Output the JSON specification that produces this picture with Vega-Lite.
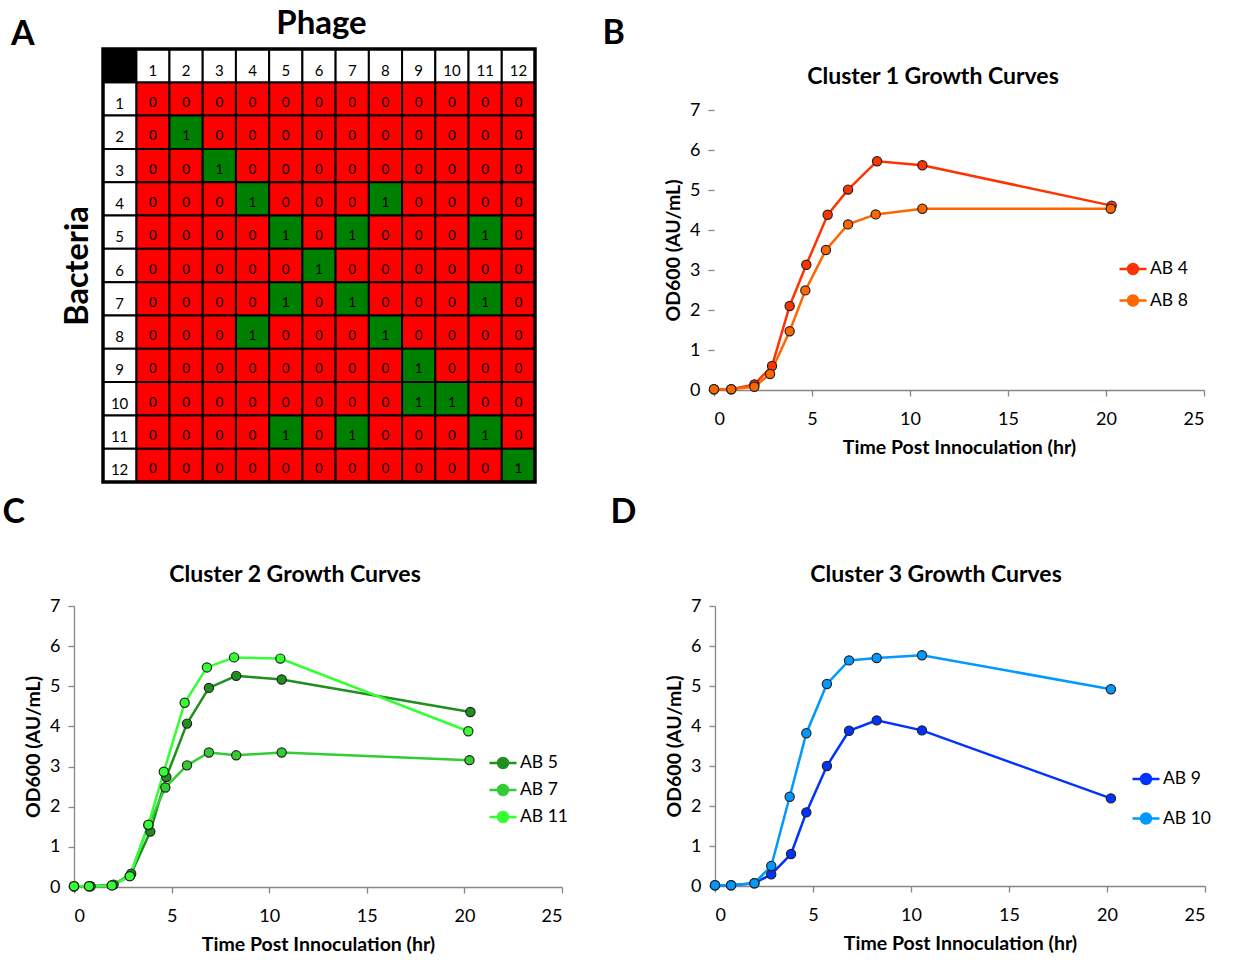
{
  "$schema": "https://vega.github.io/schema/vega-lite/v6.json",
  "padding": {"left": 2, "top": 8, "right": 0, "bottom": 0},
  "config": {
    "font": "Lato",
    "view": {"stroke": null},
    "title": {"font": "Lato", "fontWeight": "bold", "color": "black"},
    "axis": {"labelFont": "Lato", "titleFont": "Lato", "labelColor": "black", "titleColor": "black", "titleFontWeight": "bold", "domainColor": "#868686", "tickColor": "#868686", "domainWidth": 1.3, "tickWidth": 1.3, "tickSize": 6, "grid": false, "labelFontSize": 18, "titleFontSize": 19.5},
    "axisX": {"labelPadding": 14, "titlePadding": 10},
    "axisY": {"labelPadding": 8, "titlePadding": 6},
    "legend": {"labelFont": "Lato", "labelFontSize": 17.5, "labelColor": "black"},
    "text": {"font": "Lato"}
  },
  "datasets": {
    "cells": [
      {"b":"1","p":"1","v":0},{"b":"1","p":"2","v":0},{"b":"1","p":"3","v":0},{"b":"1","p":"4","v":0},{"b":"1","p":"5","v":0},{"b":"1","p":"6","v":0},{"b":"1","p":"7","v":0},{"b":"1","p":"8","v":0},{"b":"1","p":"9","v":0},{"b":"1","p":"10","v":0},{"b":"1","p":"11","v":0},{"b":"1","p":"12","v":0},
      {"b":"2","p":"1","v":0},{"b":"2","p":"2","v":1},{"b":"2","p":"3","v":0},{"b":"2","p":"4","v":0},{"b":"2","p":"5","v":0},{"b":"2","p":"6","v":0},{"b":"2","p":"7","v":0},{"b":"2","p":"8","v":0},{"b":"2","p":"9","v":0},{"b":"2","p":"10","v":0},{"b":"2","p":"11","v":0},{"b":"2","p":"12","v":0},
      {"b":"3","p":"1","v":0},{"b":"3","p":"2","v":0},{"b":"3","p":"3","v":1},{"b":"3","p":"4","v":0},{"b":"3","p":"5","v":0},{"b":"3","p":"6","v":0},{"b":"3","p":"7","v":0},{"b":"3","p":"8","v":0},{"b":"3","p":"9","v":0},{"b":"3","p":"10","v":0},{"b":"3","p":"11","v":0},{"b":"3","p":"12","v":0},
      {"b":"4","p":"1","v":0},{"b":"4","p":"2","v":0},{"b":"4","p":"3","v":0},{"b":"4","p":"4","v":1},{"b":"4","p":"5","v":0},{"b":"4","p":"6","v":0},{"b":"4","p":"7","v":0},{"b":"4","p":"8","v":1},{"b":"4","p":"9","v":0},{"b":"4","p":"10","v":0},{"b":"4","p":"11","v":0},{"b":"4","p":"12","v":0},
      {"b":"5","p":"1","v":0},{"b":"5","p":"2","v":0},{"b":"5","p":"3","v":0},{"b":"5","p":"4","v":0},{"b":"5","p":"5","v":1},{"b":"5","p":"6","v":0},{"b":"5","p":"7","v":1},{"b":"5","p":"8","v":0},{"b":"5","p":"9","v":0},{"b":"5","p":"10","v":0},{"b":"5","p":"11","v":1},{"b":"5","p":"12","v":0},
      {"b":"6","p":"1","v":0},{"b":"6","p":"2","v":0},{"b":"6","p":"3","v":0},{"b":"6","p":"4","v":0},{"b":"6","p":"5","v":0},{"b":"6","p":"6","v":1},{"b":"6","p":"7","v":0},{"b":"6","p":"8","v":0},{"b":"6","p":"9","v":0},{"b":"6","p":"10","v":0},{"b":"6","p":"11","v":0},{"b":"6","p":"12","v":0},
      {"b":"7","p":"1","v":0},{"b":"7","p":"2","v":0},{"b":"7","p":"3","v":0},{"b":"7","p":"4","v":0},{"b":"7","p":"5","v":1},{"b":"7","p":"6","v":0},{"b":"7","p":"7","v":1},{"b":"7","p":"8","v":0},{"b":"7","p":"9","v":0},{"b":"7","p":"10","v":0},{"b":"7","p":"11","v":1},{"b":"7","p":"12","v":0},
      {"b":"8","p":"1","v":0},{"b":"8","p":"2","v":0},{"b":"8","p":"3","v":0},{"b":"8","p":"4","v":1},{"b":"8","p":"5","v":0},{"b":"8","p":"6","v":0},{"b":"8","p":"7","v":0},{"b":"8","p":"8","v":1},{"b":"8","p":"9","v":0},{"b":"8","p":"10","v":0},{"b":"8","p":"11","v":0},{"b":"8","p":"12","v":0},
      {"b":"9","p":"1","v":0},{"b":"9","p":"2","v":0},{"b":"9","p":"3","v":0},{"b":"9","p":"4","v":0},{"b":"9","p":"5","v":0},{"b":"9","p":"6","v":0},{"b":"9","p":"7","v":0},{"b":"9","p":"8","v":0},{"b":"9","p":"9","v":1},{"b":"9","p":"10","v":0},{"b":"9","p":"11","v":0},{"b":"9","p":"12","v":0},
      {"b":"10","p":"1","v":0},{"b":"10","p":"2","v":0},{"b":"10","p":"3","v":0},{"b":"10","p":"4","v":0},{"b":"10","p":"5","v":0},{"b":"10","p":"6","v":0},{"b":"10","p":"7","v":0},{"b":"10","p":"8","v":0},{"b":"10","p":"9","v":1},{"b":"10","p":"10","v":1},{"b":"10","p":"11","v":0},{"b":"10","p":"12","v":0},
      {"b":"11","p":"1","v":0},{"b":"11","p":"2","v":0},{"b":"11","p":"3","v":0},{"b":"11","p":"4","v":0},{"b":"11","p":"5","v":1},{"b":"11","p":"6","v":0},{"b":"11","p":"7","v":1},{"b":"11","p":"8","v":0},{"b":"11","p":"9","v":0},{"b":"11","p":"10","v":0},{"b":"11","p":"11","v":1},{"b":"11","p":"12","v":0},
      {"b":"12","p":"1","v":0},{"b":"12","p":"2","v":0},{"b":"12","p":"3","v":0},{"b":"12","p":"4","v":0},{"b":"12","p":"5","v":0},{"b":"12","p":"6","v":0},{"b":"12","p":"7","v":0},{"b":"12","p":"8","v":0},{"b":"12","p":"9","v":0},{"b":"12","p":"10","v":0},{"b":"12","p":"11","v":0},{"b":"12","p":"12","v":1}
    ],
    "b": [
      {"s":"AB 4","t":0,"od":0.02},{"s":"AB 4","t":0.88,"od":0.02},{"s":"AB 4","t":2.06,"od":0.14},{"s":"AB 4","t":2.96,"od":0.6},{"s":"AB 4","t":3.86,"od":2.1},{"s":"AB 4","t":4.71,"od":3.13},{"s":"AB 4","t":5.8,"od":4.38},{"s":"AB 4","t":6.84,"od":5.01},{"s":"AB 4","t":8.32,"od":5.72},{"s":"AB 4","t":10.63,"od":5.62},{"s":"AB 4","t":20.29,"od":4.61},
      {"s":"AB 8","t":0,"od":0.02},{"s":"AB 8","t":0.88,"od":0.02},{"s":"AB 8","t":2.06,"od":0.08},{"s":"AB 8","t":2.86,"od":0.4},{"s":"AB 8","t":3.86,"od":1.47},{"s":"AB 8","t":4.66,"od":2.49},{"s":"AB 8","t":5.71,"od":3.5},{"s":"AB 8","t":6.84,"od":4.14},{"s":"AB 8","t":8.25,"od":4.39},{"s":"AB 8","t":10.63,"od":4.53},{"s":"AB 8","t":20.24,"od":4.53}
    ],
    "c": [
      {"s":"AB 5","t":0,"od":0.02},{"s":"AB 5","t":0.85,"od":0.02},{"s":"AB 5","t":2.03,"od":0.06},{"s":"AB 5","t":2.93,"od":0.33},{"s":"AB 5","t":3.91,"od":1.38},{"s":"AB 5","t":4.73,"od":2.74},{"s":"AB 5","t":5.79,"od":4.07},{"s":"AB 5","t":6.91,"od":4.96},{"s":"AB 5","t":8.31,"od":5.26},{"s":"AB 5","t":10.64,"od":5.17},{"s":"AB 5","t":20.31,"od":4.36},
      {"s":"AB 7","t":0,"od":0.02},{"s":"AB 7","t":0.77,"od":0.02},{"s":"AB 7","t":1.94,"od":0.04},{"s":"AB 7","t":2.86,"od":0.27},{"s":"AB 7","t":3.81,"od":1.54},{"s":"AB 7","t":4.68,"od":2.48},{"s":"AB 7","t":5.79,"od":3.03},{"s":"AB 7","t":6.91,"od":3.35},{"s":"AB 7","t":8.31,"od":3.28},{"s":"AB 7","t":10.64,"od":3.35},{"s":"AB 7","t":20.26,"od":3.16},
      {"s":"AB 11","t":0,"od":0.02},{"s":"AB 11","t":0.77,"od":0.02},{"s":"AB 11","t":1.94,"od":0.04},{"s":"AB 11","t":2.86,"od":0.27},{"s":"AB 11","t":3.81,"od":1.55},{"s":"AB 11","t":4.6,"od":2.87},{"s":"AB 11","t":5.67,"od":4.59},{"s":"AB 11","t":6.81,"od":5.47},{"s":"AB 11","t":8.2,"od":5.72},{"s":"AB 11","t":10.57,"od":5.69},{"s":"AB 11","t":20.2,"od":3.88}
    ],
    "d": [
      {"s":"AB 9","t":0,"od":0.02},{"s":"AB 9","t":0.82,"od":0.02},{"s":"AB 9","t":2.01,"od":0.07},{"s":"AB 9","t":2.87,"od":0.29},{"s":"AB 9","t":3.88,"od":0.8},{"s":"AB 9","t":4.66,"od":1.84},{"s":"AB 9","t":5.71,"od":3.0},{"s":"AB 9","t":6.84,"od":3.88},{"s":"AB 9","t":8.25,"od":4.14},{"s":"AB 9","t":10.56,"od":3.89},{"s":"AB 9","t":20.2,"od":2.19},
      {"s":"AB 10","t":0,"od":0.02},{"s":"AB 10","t":0.82,"od":0.02},{"s":"AB 10","t":2.01,"od":0.07},{"s":"AB 10","t":2.87,"od":0.5},{"s":"AB 10","t":3.81,"od":2.23},{"s":"AB 10","t":4.66,"od":3.82},{"s":"AB 10","t":5.71,"od":5.05},{"s":"AB 10","t":6.84,"od":5.64},{"s":"AB 10","t":8.25,"od":5.7},{"s":"AB 10","t":10.56,"od":5.77},{"s":"AB 10","t":20.2,"od":4.92}
    ]
  },
  "resolve": {"scale": {"fill": "independent", "stroke": "independent"}, "legend": {"fill": "independent", "stroke": "independent"}},
  "spacing": 12,
  "vconcat": [
    {
      "spacing": 65,
      "resolve": {"scale": {"fill": "independent", "stroke": "independent"}, "legend": {"fill": "independent", "stroke": "independent"}},
      "hconcat": [
        {
          "title": {"text": "A", "anchor": "start", "frame": "bounds", "fontSize": 34, "dx": -50, "offset": -44},
          "vconcat": [{
            "width": 461, "height": 433,
            "title": {"text": "Phage", "fontSize": 33, "offset": 6, "frame": "group", "dx": 17},
            "data": {"name": "cells"},
            "layer": [
              {"mark": {"type": "rect", "stroke": "black", "strokeWidth": 2},
               "encoding": {
                 "x": {"field": "p", "type": "nominal", "scale": {"type": "band", "domain": ["lbl","1","2","3","4","5","6","7","8","9","10","11","12"], "paddingInner": 0, "paddingOuter": 0.4365, "align": 1}, "axis": null},
                 "y": {"field": "b", "type": "nominal", "scale": {"type": "band", "domain": ["hdr","1","2","3","4","5","6","7","8","9","10","11","12"], "paddingInner": 0, "paddingOuter": 0}, "axis": {"title": "Bacteria", "labels": false, "ticks": false, "domain": false, "titleFontSize": 32.5, "titlePadding": -20}},
                 "fill": {"field": "v", "type": "nominal", "scale": {"domain": [0, 1], "range": ["#ff0000", "#008000"]}, "legend": null}
               }},
              {"mark": {"type": "text", "fontSize": 13.5, "dy": 4, "color": "black"},
               "encoding": {
                 "x": {"field": "p", "type": "nominal", "scale": {"type": "band", "domain": ["lbl","1","2","3","4","5","6","7","8","9","10","11","12"], "paddingInner": 0, "paddingOuter": 0.4365, "align": 1}, "axis": null},
                 "y": {"field": "b", "type": "nominal", "scale": {"type": "band", "domain": ["hdr","1","2","3","4","5","6","7","8","9","10","11","12"], "paddingInner": 0, "paddingOuter": 0}, "axis": {"title": "Bacteria", "labels": false, "ticks": false, "domain": false, "titleFontSize": 32.5, "titlePadding": -20}},
                 "text": {"field": "v", "type": "nominal"}
               }},
              {"transform": [{"aggregate": [{"op": "count", "as": "n"}], "groupby": ["p"]}],
               "mark": {"type": "rect", "fill": "white", "stroke": "black", "strokeWidth": 2},
               "encoding": {
                 "x": {"field": "p", "type": "nominal", "scale": {"type": "band", "domain": ["lbl","1","2","3","4","5","6","7","8","9","10","11","12"], "paddingInner": 0, "paddingOuter": 0.4365, "align": 1}, "axis": null},
                 "y": {"datum": "hdr", "type": "nominal", "scale": {"type": "band", "domain": ["hdr","1","2","3","4","5","6","7","8","9","10","11","12"], "paddingInner": 0, "paddingOuter": 0}, "axis": {"title": "Bacteria", "labels": false, "ticks": false, "domain": false, "titleFontSize": 32.5, "titlePadding": -20}}
               }},
              {"transform": [{"aggregate": [{"op": "count", "as": "n"}], "groupby": ["p"]}],
               "mark": {"type": "text", "fontSize": 15, "dy": 5, "color": "black"},
               "encoding": {
                 "x": {"field": "p", "type": "nominal", "scale": {"type": "band", "domain": ["lbl","1","2","3","4","5","6","7","8","9","10","11","12"], "paddingInner": 0, "paddingOuter": 0.4365, "align": 1}, "axis": null},
                 "y": {"datum": "hdr", "type": "nominal", "scale": {"type": "band", "domain": ["hdr","1","2","3","4","5","6","7","8","9","10","11","12"], "paddingInner": 0, "paddingOuter": 0}, "axis": {"title": "Bacteria", "labels": false, "ticks": false, "domain": false, "titleFontSize": 32.5, "titlePadding": -20}},
                 "text": {"field": "p", "type": "nominal"}
               }},
              {"transform": [{"aggregate": [{"op": "count", "as": "n"}], "groupby": ["b"]}],
               "mark": {"type": "rect", "fill": "white", "stroke": "black", "strokeWidth": 2},
               "encoding": {
                 "x": {"datum": "lbl", "type": "nominal", "scale": {"type": "band", "domain": ["lbl","1","2","3","4","5","6","7","8","9","10","11","12"], "paddingInner": 0, "paddingOuter": 0.4365, "align": 1}, "axis": null},
                 "y": {"field": "b", "type": "nominal", "scale": {"type": "band", "domain": ["hdr","1","2","3","4","5","6","7","8","9","10","11","12"], "paddingInner": 0, "paddingOuter": 0}, "axis": {"title": "Bacteria", "labels": false, "ticks": false, "domain": false, "titleFontSize": 32.5, "titlePadding": -20}}
               }},
              {"transform": [{"aggregate": [{"op": "count", "as": "n"}], "groupby": ["b"]}],
               "mark": {"type": "text", "fontSize": 15, "dy": 5, "color": "black"},
               "encoding": {
                 "x": {"datum": "lbl", "type": "nominal", "scale": {"type": "band", "domain": ["lbl","1","2","3","4","5","6","7","8","9","10","11","12"], "paddingInner": 0, "paddingOuter": 0.4365, "align": 1}, "axis": null},
                 "y": {"field": "b", "type": "nominal", "scale": {"type": "band", "domain": ["hdr","1","2","3","4","5","6","7","8","9","10","11","12"], "paddingInner": 0, "paddingOuter": 0}, "axis": {"title": "Bacteria", "labels": false, "ticks": false, "domain": false, "titleFontSize": 32.5, "titlePadding": -20}},
                 "text": {"field": "b", "type": "nominal"}
               }},
              {"transform": [{"aggregate": [{"op": "count", "as": "n"}]}],
               "mark": {"type": "rect", "fill": "black", "stroke": "black", "strokeWidth": 2},
               "encoding": {
                 "x": {"datum": "lbl", "type": "nominal", "scale": {"type": "band", "domain": ["lbl","1","2","3","4","5","6","7","8","9","10","11","12"], "paddingInner": 0, "paddingOuter": 0.4365, "align": 1}, "axis": null},
                 "y": {"datum": "hdr", "type": "nominal", "scale": {"type": "band", "domain": ["hdr","1","2","3","4","5","6","7","8","9","10","11","12"], "paddingInner": 0, "paddingOuter": 0}, "axis": {"title": "Bacteria", "labels": false, "ticks": false, "domain": false, "titleFontSize": 32.5, "titlePadding": -20}}
               }},
              {"transform": [{"aggregate": [{"op": "count", "as": "n"}]}],
               "mark": {"type": "rect", "fill": null, "filled": false, "stroke": "black", "strokeWidth": 3.5},
               "encoding": {
                 "x": {"datum": "lbl", "type": "nominal", "bandPosition": 0, "scale": {"type": "band", "domain": ["lbl","1","2","3","4","5","6","7","8","9","10","11","12"], "paddingInner": 0, "paddingOuter": 0.4365, "align": 1}, "axis": null},
                 "x2": {"datum": "12", "bandPosition": 1},
                 "y": {"datum": "hdr", "type": "nominal", "bandPosition": 0, "scale": {"type": "band", "domain": ["hdr","1","2","3","4","5","6","7","8","9","10","11","12"], "paddingInner": 0, "paddingOuter": 0}, "axis": {"title": "Bacteria", "labels": false, "ticks": false, "domain": false, "titleFontSize": 32.5, "titlePadding": -20}},
                 "y2": {"datum": "12", "bandPosition": 1}
               }}
            ]
          }]
        },
        {
          "title": {"text": "B", "anchor": "start", "frame": "bounds", "fontSize": 34, "dx": -61, "offset": -2},
          "vconcat": [{
            "width": 490, "height": 341,
            "title": {"text": "Cluster 1 Growth Curves", "fontSize": 23, "offset": -40, "dx": -26},
            "data": {"name": "b"},
            "encoding": {
              "x": {"field": "t", "type": "quantitative", "scale": {"domain": [0, 25], "nice": false}, "axis": {"values": [0, 5, 10, 15, 20, 25], "title": "Time Post Innoculation (hr)"}},
              "y": {"field": "od", "type": "quantitative", "scale": {"domain": [0, 8.525], "nice": false}, "axis": {"values": [0, 1, 2, 3, 4, 5, 6, 7], "title": "OD600 (AU/mL)", "domain": false, "titleY": 201}}
            },
            "layer": [
              {"transform": [{"aggregate": [{"op": "count", "as": "n"}]}],
               "mark": {"type": "rule", "color": "#868686", "strokeWidth": 1.3},
               "encoding": {"x": {"datum": 0, "type": "quantitative"}, "y": {"datum": 0, "type": "quantitative"}, "y2": {"datum": 7}}},
              {"mark": {"type": "line", "strokeWidth": 2.5},
               "encoding": {"stroke": {"field": "s", "type": "nominal", "scale": {"domain": ["AB 4", "AB 8"], "range": ["#ff3300", "#ff6600"]},
                 "legend": {"title": null, "orient": "none", "legendX": 404, "legendY": 205, "padding": 0, "symbolType": "M-1,0H1M0.37,0A0.37,0.37,0,1,1,-0.37,0A0.37,0.37,0,1,1,0.37,0Z", "symbolSize": 729, "symbolStrokeWidth": 2.5, "rowPadding": 6.5, "labelOffset": 2}}}},
              {"mark": {"type": "point", "filled": true, "size": 85, "stroke": "#222222", "strokeWidth": 1.2, "opacity": 1},
               "encoding": {"fill": {"field": "s", "type": "nominal", "scale": {"domain": ["AB 4", "AB 8"], "range": ["#ff3300", "#ff6600"]},
                 "legend": {"title": null, "orient": "none", "legendX": 404, "legendY": 205, "padding": 0, "symbolType": "M-1,0H1M0.37,0A0.37,0.37,0,1,1,-0.37,0A0.37,0.37,0,1,1,0.37,0Z", "symbolSize": 729, "symbolStrokeWidth": 2.5, "rowPadding": 6.5, "labelOffset": 2}}}}
            ]
          }]
        }
      ]
    },
    {
      "spacing": 42,
      "resolve": {"scale": {"fill": "independent", "stroke": "independent"}, "legend": {"fill": "independent", "stroke": "independent"}},
      "hconcat": [
        {
          "title": {"text": "C", "anchor": "start", "frame": "bounds", "fontSize": 34, "dx": -21, "offset": 34},
          "vconcat": [{
            "width": 488, "height": 281,
            "title": {"text": "Cluster 2 Growth Curves", "fontSize": 23, "offset": 10, "dx": -23},
            "data": {"name": "c"},
            "encoding": {
              "x": {"field": "t", "type": "quantitative", "scale": {"domain": [0, 25], "nice": false}, "axis": {"values": [0, 5, 10, 15, 20, 25], "title": "Time Post Innoculation (hr)"}},
              "y": {"field": "od", "type": "quantitative", "scale": {"domain": [0, 7], "nice": false}, "axis": {"values": [0, 1, 2, 3, 4, 5, 6, 7], "title": "OD600 (AU/mL)"}}
            },
            "layer": [
              {"mark": {"type": "line", "strokeWidth": 2.5},
               "encoding": {"stroke": {"field": "s", "type": "nominal", "scale": {"domain": ["AB 5", "AB 7", "AB 11"], "range": ["#1f8f1f", "#33cc33", "#33ff33"]},
                 "legend": {"title": null, "orient": "none", "legendX": 414, "legendY": 142, "padding": 0, "symbolType": "M-1,0H1M0.37,0A0.37,0.37,0,1,1,-0.37,0A0.37,0.37,0,1,1,0.37,0Z", "symbolSize": 729, "symbolStrokeWidth": 2.5, "rowPadding": 2, "labelOffset": 2}}}},
              {"mark": {"type": "point", "filled": true, "size": 85, "stroke": "#222222", "strokeWidth": 1.2, "opacity": 1},
               "encoding": {"fill": {"field": "s", "type": "nominal", "scale": {"domain": ["AB 5", "AB 7", "AB 11"], "range": ["#1f8f1f", "#33cc33", "#33ff33"]},
                 "legend": {"title": null, "orient": "none", "legendX": 414, "legendY": 142, "padding": 0, "symbolType": "M-1,0H1M0.37,0A0.37,0.37,0,1,1,-0.37,0A0.37,0.37,0,1,1,0.37,0Z", "symbolSize": 729, "symbolStrokeWidth": 2.5, "rowPadding": 2, "labelOffset": 2}}}}
            ]
          }]
        },
        {
          "title": {"text": "D", "anchor": "start", "frame": "bounds", "fontSize": 34, "dx": -54, "offset": 34},
          "vconcat": [{
            "width": 490, "height": 280,
            "title": {"text": "Cluster 3 Growth Curves", "fontSize": 23, "offset": 10, "dx": -24},
            "data": {"name": "d"},
            "encoding": {
              "x": {"field": "t", "type": "quantitative", "scale": {"domain": [0, 25], "nice": false}, "axis": {"values": [0, 5, 10, 15, 20, 25], "title": "Time Post Innoculation (hr)"}},
              "y": {"field": "od", "type": "quantitative", "scale": {"domain": [0, 7], "nice": false}, "axis": {"values": [0, 1, 2, 3, 4, 5, 6, 7], "title": "OD600 (AU/mL)"}}
            },
            "layer": [
              {"mark": {"type": "line", "strokeWidth": 2.5},
               "encoding": {"stroke": {"field": "s", "type": "nominal", "scale": {"domain": ["AB 9", "AB 10"], "range": ["#0033ff", "#0099ff"]},
                 "legend": {"title": null, "orient": "none", "legendX": 416, "legendY": 158, "padding": 0, "symbolType": "M-1,0H1M0.37,0A0.37,0.37,0,1,1,-0.37,0A0.37,0.37,0,1,1,0.37,0Z", "symbolSize": 729, "symbolStrokeWidth": 2.5, "rowPadding": 14.5, "labelOffset": 2}}}},
              {"mark": {"type": "point", "filled": true, "size": 85, "stroke": "#222222", "strokeWidth": 1.2, "opacity": 1},
               "encoding": {"fill": {"field": "s", "type": "nominal", "scale": {"domain": ["AB 9", "AB 10"], "range": ["#0033ff", "#0099ff"]},
                 "legend": {"title": null, "orient": "none", "legendX": 416, "legendY": 158, "padding": 0, "symbolType": "M-1,0H1M0.37,0A0.37,0.37,0,1,1,-0.37,0A0.37,0.37,0,1,1,0.37,0Z", "symbolSize": 729, "symbolStrokeWidth": 2.5, "rowPadding": 14.5, "labelOffset": 2}}}}
            ]
          }]
        }
      ]
    }
  ]
}
